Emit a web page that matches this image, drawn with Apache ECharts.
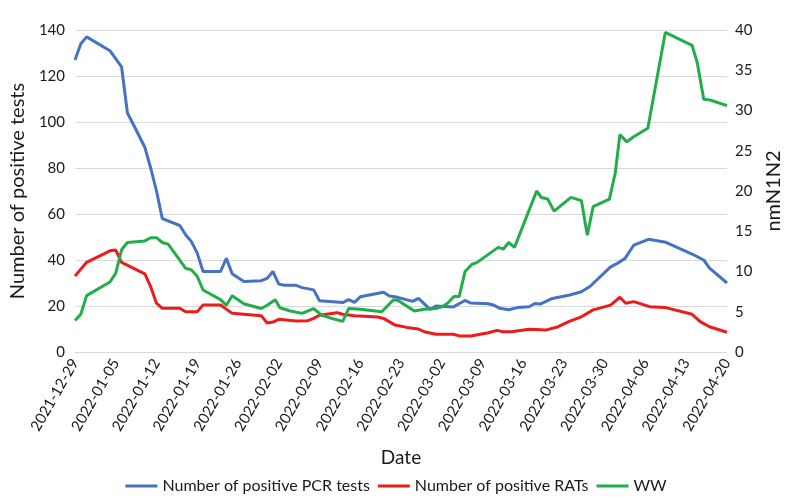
<!DOCTYPE html>
<html>
<head>
<meta charset="utf-8">
<script src="https://cdn.jsdelivr.net/npm/echarts@6/dist/echarts.min.js"></script>
<style>
html,body{margin:0;padding:0;background:#fff;}
#chart{width:792px;height:503px;}
</style>
</head>
<body>
<div id="chart"></div>
<script>
// Tick labels (every 7 days from 2021-12-29)
const tickLabels = ["2021-12-29","2022-01-05","2022-01-12","2022-01-19","2022-01-26","2022-02-02","2022-02-09","2022-02-16","2022-02-23","2022-03-02","2022-03-09","2022-03-16","2022-03-23","2022-03-30","2022-04-06","2022-04-13","2022-04-20"];

// [day offset from 2021-12-29, value]
const pcrTests = [[0,127],[1,134],[2,137],[6,131],[8,124],[9,104],[12,89],[13,80],[14,70],[15,58],[18,55],[19,51],[20,48],[21,43],[22,35],[25,35],[26,40.7],[27,34],[29,30.6],[32,31],[33,32],[34,35],[35,29.5],[36,29],[38,29],[39,28],[41,27],[42,22.3],[46,21.5],[47,22.8],[48,21.6],[49,24],[53,26],[54,24.3],[55,24],[58,22],[59,23.3],[61,18.5],[62,20],[65,19.6],[67,22.4],[68,21.3],[71,21],[72,20.3],[73,19],[74.5,18.4],[76,19.3],[78,19.7],[79,21.1],[80,20.9],[82,23.3],[85,24.8],[87,26.2],[88.5,28.6],[92,37],[93,38.3],[94.5,40.7],[96,46.5],[98.5,49],[101.5,47.7],[106,42.6],[108,40],[109,36.5],[112,30]];

const ratTests = [[0,33],[2,39],[6,44],[7,44.3],[8,39],[12,34],[13,28.4],[14,21.2],[15,19],[18,19],[19,17.5],[21,17.5],[22,20.4],[25,20.4],[27,16.8],[29,16.4],[32,15.8],[33,12.6],[34,13],[35,14.2],[38,13.5],[40,13.6],[41,14.6],[42,16],[45,17.1],[46,16.4],[48,15.8],[52,15.2],[53,14.6],[55,11.7],[57,10.7],[59,10],[60,8.8],[62,7.7],[65,7.7],[66,7],[68,7],[71,8.4],[72.5,9.4],[73.5,8.8],[75,8.8],[78,9.9],[81,9.6],[83,11],[85,13.4],[87,15.3],[89,18.3],[92,20.4],[93.6,23.8],[94.6,21.2],[96,21.9],[98.7,19.7],[101.3,19.4],[106,16.4],[107.4,13.2],[109,11],[112,8.6]];

const ww = [[0,3.9],[1,4.7],[2,7],[6,8.7],[7,9.8],[8,12.7],[9,13.6],[12,13.8],[13,14.2],[14,14.2],[15,13.6],[16,13.4],[18,11.4],[19,10.4],[20,10.2],[21,9.4],[22,7.7],[25,6.5],[26,5.8],[27,7],[29,6],[32,5.4],[33,5.8],[34.4,6.5],[35.2,5.5],[37,5.1],[39,4.8],[41,5.4],[42.3,4.6],[44,4.2],[46,3.8],[47,5.4],[49,5.3],[52.7,5.0],[54.7,6.5],[55.5,6.4],[58.3,5.1],[60,5.3],[62,5.4],[63,5.6],[64,6.05],[65.1,6.9],[66,6.9],[67,10],[68.2,10.9],[69,11.1],[72.7,13],[73.6,12.8],[74.5,13.6],[75.5,13],[79.3,20],[80.1,19.2],[81.2,19],[82.3,17.5],[85.2,19.2],[87,18.8],[88,14.5],[89,18.05],[91.8,19],[92.8,22.2],[93.6,27],[94.8,26.1],[95.9,26.7],[98.4,27.8],[101.4,39.7],[106,38.1],[106.9,35.9],[108,31.4],[109.1,31.3],[112,30.6]];

const chart = echarts.init(document.getElementById('chart'));
const txt = '#1a1a1a';
const font = 'Lato';
chart.setOption({
  animation: false,
  backgroundColor: '#fff',
  textStyle: { fontFamily: font },
  grid: { left: 67, right: 60, top: 30, bottom: 151 },
  legend: {
    bottom: 4,
    left: 'center',
    icon: 'rect',
    itemWidth: 32,
    itemHeight: 3,
    itemGap: 8,
    textStyle: { fontFamily: font, fontSize: 16, color: txt },
    data: ['Number of positive PCR tests','Number of positive RATs','WW']
  },
  xAxis: {
    type: 'value',
    min: 0, max: 112, interval: 7,
    name: 'Date',
    nameLocation: 'middle',
    nameGap: 96,
    nameTextStyle: { fontFamily: font, fontSize: 19, color: txt },
    axisLine: { show: false },
    axisTick: { show: false },
    splitLine: { show: false },
    axisLabel: {
      rotate: 60,
      fontSize: 15,
      color: txt,
      margin: 8,
      formatter: v => tickLabels[Math.round(v / 7)] || ''
    }
  },
  yAxis: [{
    type: 'value',
    min: 0, max: 140, interval: 20,
    name: 'Number of positive tests',
    nameLocation: 'middle',
    nameRotate: 90,
    nameGap: 40,
    nameTextStyle: { fontFamily: font, fontSize: 20, color: txt },
    axisLine: { show: false },
    axisTick: { show: false },
    axisLabel: { fontSize: 15, color: txt, margin: 10 },
    splitLine: { lineStyle: { color: '#d9d9d9', width: 1 } }
  }, {
    type: 'value',
    min: 0, max: 40, interval: 5,
    name: 'nmN1N2',
    nameLocation: 'middle',
    nameRotate: 90,
    nameGap: 37,
    nameTextStyle: { fontFamily: font, fontSize: 20, color: txt },
    axisLine: { show: false },
    axisTick: { show: false },
    axisLabel: { fontSize: 15, color: txt, margin: 8 },
    splitLine: { show: false }
  }],
  series: [{
    name: 'Number of positive PCR tests',
    type: 'line',
    yAxisIndex: 0,
    data: pcrTests,
    showSymbol: false,
    symbol: 'none',
    lineStyle: { color: '#4472c4', width: 3 },
    itemStyle: { color: '#4472c4' }
  }, {
    name: 'Number of positive RATs',
    type: 'line',
    yAxisIndex: 0,
    data: ratTests,
    showSymbol: false,
    symbol: 'none',
    lineStyle: { color: '#ed1c1c', width: 3 },
    itemStyle: { color: '#ed1c1c' }
  }, {
    name: 'WW',
    type: 'line',
    yAxisIndex: 1,
    data: ww,
    showSymbol: false,
    symbol: 'none',
    lineStyle: { color: '#22ad4a', width: 3 },
    itemStyle: { color: '#22ad4a' }
  }]
});
</script>
</body>
</html>
